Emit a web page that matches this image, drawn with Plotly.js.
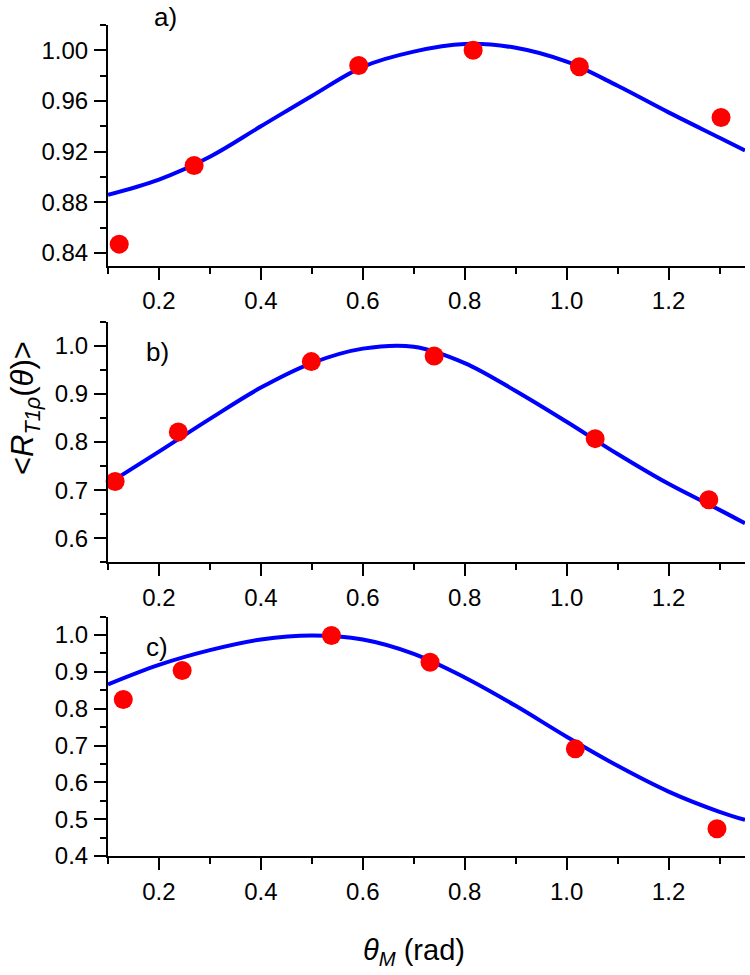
<!DOCTYPE html>
<html>
<head>
<meta charset="utf-8">
<script src="https://cdn.plot.ly/plotly-3.0.1.min.js"></script>
<style>html,body{margin:0;padding:0;background:#fff;}#chart{width:750px;height:975px;}</style>
</head>
<body>
<div id="chart"></div>
<script>
// Measured points (theta_M in rad, normalized <R_T1rho>)
const pointsAX = [0.122, 0.269, 0.592, 0.8165, 1.025, 1.303];
const pointsAY = [0.847, 0.909, 0.988, 1.000, 0.987, 0.947];
const pointsBX = [0.114, 0.238, 0.499, 0.740, 1.056, 1.279];
const pointsBY = [0.718, 0.821, 0.967, 0.9785, 0.807, 0.680];
const pointsCX = [0.130, 0.2455, 0.5385, 0.732, 1.017, 1.295];
const pointsCY = [0.825, 0.904, 0.999, 0.926, 0.691, 0.474];

// Fitted curves
const curveX = [0.10, 0.20, 0.30, 0.40, 0.50, 0.60, 0.70, 0.80, 0.90, 1.00, 1.10, 1.20, 1.30, 1.35];
const curveA = [0.886, 0.898, 0.916, 0.940, 0.964, 0.987, 0.999, 1.005, 1.002, 0.991, 0.972, 0.951, 0.931, 0.921];
const curveB = [0.713, 0.780, 0.848, 0.913, 0.964, 0.994, 0.998, 0.964, 0.906, 0.842, 0.775, 0.713, 0.659, 0.631];
const curveC = [0.866, 0.919, 0.959, 0.988, 0.999, 0.988, 0.949, 0.885, 0.808, 0.724, 0.645, 0.575, 0.520, 0.498];

const panelLabels = ['a)', 'b)', 'c)'];
const yTitle = '&lt;<i>R</i><sub><i>T1ρ</i></sub>(<i>θ</i>)&gt;';
const xTitle = '<i>θ</i><sub><i>M</i></sub> (rad)';

const FONT = 'Arial, "Liberation Sans", sans-serif';
const lineStyle = {color: '#0000ff', width: 4, shape: 'spline', smoothing: 1};
const markerStyle = {color: '#ff0000', size: 19};

function curveTrace(y, xa, ya) {
  return {x: curveX, y: y, xaxis: xa, yaxis: ya, mode: 'lines', line: lineStyle, hoverinfo: 'skip'};
}
function pointTrace(x, y, xa, ya) {
  return {x: x, y: y, xaxis: xa, yaxis: ya, mode: 'markers', marker: markerStyle, cliponaxis: false};
}

const data = [
  curveTrace(curveA, 'x', 'y'), pointTrace(pointsAX, pointsAY, 'x', 'y'),
  curveTrace(curveB, 'x2', 'y2'), pointTrace(pointsBX, pointsBY, 'x2', 'y2'),
  curveTrace(curveC, 'x3', 'y3'), pointTrace(pointsCX, pointsCY, 'x3', 'y3')
];

function xAxis(anchor) {
  return {
    anchor: anchor, domain: [0, 1], range: [0.1, 1.35],
    tick0: 0.2, dtick: 0.2, tickformat: '.1f',
    showline: true, linewidth: 2, linecolor: '#000',
    ticks: 'outside', ticklen: 12, tickwidth: 2, tickcolor: '#000',
    ticklabelstandoff: 1,
    minor: {ticks: 'outside', ticklen: 6, tickwidth: 2, tickcolor: '#000', dtick: 0.1, tick0: 0.1, showgrid: false},
    showgrid: false, zeroline: false, mirror: false,
    tickfont: {family: FONT, size: 24, color: '#000'}
  };
}
function yAxis(anchor, domain, range, tick0, dtick, fmt, minorD) {
  return {
    anchor: anchor, domain: domain, range: range,
    tick0: tick0, dtick: dtick, tickformat: fmt,
    showline: true, linewidth: 2, linecolor: '#000',
    ticks: 'outside', ticklen: 12, tickwidth: 2, tickcolor: '#000',
    ticklabelstandoff: 1,
    minor: {ticks: 'outside', ticklen: 6, tickwidth: 2, tickcolor: '#000', dtick: minorD, tick0: tick0, showgrid: false},
    showgrid: false, zeroline: false, mirror: false,
    tickfont: {family: FONT, size: 24, color: '#000'}
  };
}

const layout = {
  width: 750, height: 975,
  margin: {l: 108, r: 5, t: 25, b: 119},
  paper_bgcolor: '#fff', plot_bgcolor: '#fff',
  showlegend: false,
  font: {family: FONT, color: '#000'},
  xaxis: xAxis('y'),
  xaxis2: xAxis('y2'),
  xaxis3: xAxis('y3'),
  yaxis: yAxis('x', [0.7104, 1], [0.83, 1.02], 0.84, 0.04, '.2f', 0.02),
  yaxis2: yAxis('x2', [0.3534, 0.6430], [0.55, 1.05], 0.6, 0.1, '.1f', 0.05),
  yaxis3: yAxis('x3', [0, 0.288], [0.4, 1.05], 0.4, 0.1, '.1f', 0.05),
  annotations: [
    {text: panelLabels[0], xref: 'paper', yref: 'paper', x: (165 - 108) / 637, y: (856 - 17) / 831, xanchor: 'center', yanchor: 'middle', showarrow: false, font: {family: FONT, size: 26, color: '#000'}},
    {text: panelLabels[1], xref: 'paper', yref: 'paper', x: (157 - 108) / 637, y: (856 - 352) / 831, xanchor: 'center', yanchor: 'middle', showarrow: false, font: {family: FONT, size: 26, color: '#000'}},
    {text: panelLabels[2], xref: 'paper', yref: 'paper', x: (157 - 108) / 637, y: (856 - 647) / 831, xanchor: 'center', yanchor: 'middle', showarrow: false, font: {family: FONT, size: 26, color: '#000'}},
    {text: yTitle, xref: 'paper', yref: 'paper', x: (25 - 108) / 637, y: (856 - 408) / 831, xanchor: 'center', yanchor: 'middle', textangle: -90, showarrow: false, font: {family: FONT, size: 31, color: '#000'}},
    {text: xTitle, xref: 'paper', yref: 'paper', x: (414 - 108) / 637, y: (856 - 952) / 831, xanchor: 'center', yanchor: 'middle', showarrow: false, font: {family: FONT, size: 29, color: '#000'}}
  ]
};

Plotly.newPlot('chart', data, layout, {displayModeBar: false, staticPlot: true});
</script>
</body>
</html>
